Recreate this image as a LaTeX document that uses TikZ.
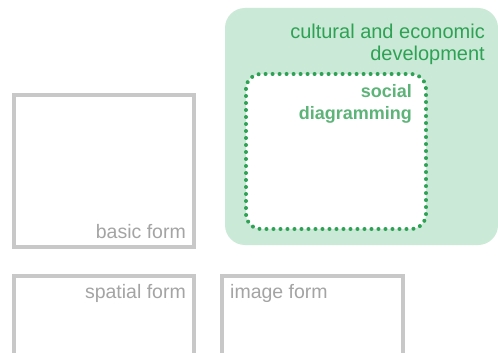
\documentclass[tikz,border=0pt]{standalone}
\usepackage{fontspec}
\setmainfont{Liberation Sans}
\definecolor{boxgray}{HTML}{C8C8C8}
\definecolor{txtgray}{HTML}{A4A4A4}
\definecolor{panelgreen}{HTML}{CAE9D6}
\definecolor{darkgreen}{HTML}{2EA254}
\definecolor{midgreen}{HTML}{5DB478}
\begin{document}
\begin{tikzpicture}[x=1pt,y=-1pt,
  formbox/.style={draw=boxgray,line width=4pt},
  graylabel/.style={text=txtgray,font=\fontsize{19.5}{20}\selectfont,inner sep=0pt},
  greenlabel/.style={text=darkgreen,font=\fontsize{20}{20}\selectfont,inner sep=0pt},
  sociallabel/.style={text=midgreen,font=\bfseries\fontsize{18}{18}\selectfont,inner sep=0pt}]
\useasboundingbox (0,0) rectangle (498,353);
\fill[white] (0,0) rectangle (498,353);
% green panel
\path[fill=panelgreen,rounded corners=20pt] (225,8) rectangle (498,245);
\node[greenlabel,anchor=base east] (cult) at (485,39) {cultural and economic};
\node[greenlabel,anchor=base east] (dev) at (485,60) {development};
% dotted box
\draw[darkgreen,fill=white,line width=4pt,line cap=round,dash pattern=on 0pt off 7pt,rounded corners=15pt] (246,74) rectangle (426,229);
\node[sociallabel,anchor=base east] (soc) at (412,97) {social};
\node[sociallabel,anchor=base east] (diag) at (412,119) {diagramming};
% gray boxes
\draw[formbox] (14,95) rectangle (194,247);
\node[graylabel,anchor=base east] (basic) at (186,238) {basic form};
\draw[formbox] (14,276) rectangle (194,360);
\node[graylabel,anchor=base east] (spatial) at (186,298) {spatial form};
\draw[formbox] (222,276) rectangle (403,360);
\node[graylabel,anchor=base west] (image) at (230,298) {image form};
\end{tikzpicture}
\end{document}
